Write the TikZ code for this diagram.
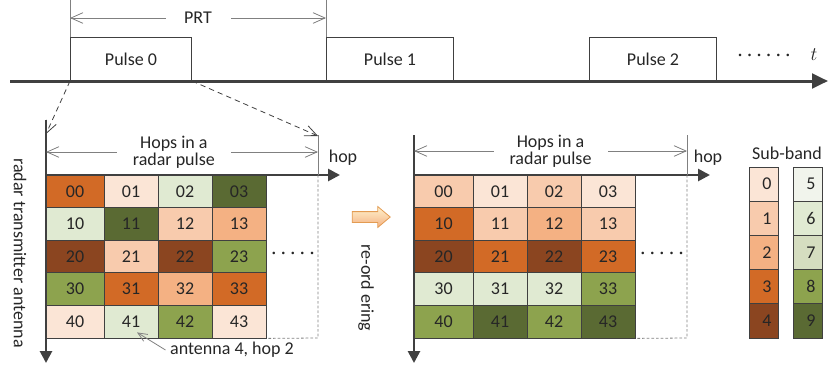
\documentclass[tikz,border=0pt]{standalone}
\usepackage{fontspec}
\setmainfont{Carlito}
\usetikzlibrary{arrows.meta,shapes.arrows}

\definecolor{sb0}{HTML}{FBE5D6}
\definecolor{sb1}{HTML}{F8CBAD}
\definecolor{sb2}{HTML}{F4B183}
\definecolor{sb3}{HTML}{D26A26}
\definecolor{sb4}{HTML}{8B4520}
\definecolor{sb5}{HTML}{F1F4EC}
\definecolor{sb6}{HTML}{E0EAD2}
\definecolor{sb7}{HTML}{D5DDC0}
\definecolor{sb8}{HTML}{8DA34E}
\definecolor{sb9}{HTML}{5A6A33}
\definecolor{axisgray}{HTML}{404040}
\definecolor{txt}{HTML}{262626}
\definecolor{arrtop}{HTML}{FFF2CC}
\definecolor{arrbot}{HTML}{F4B183}
\definecolor{arrline}{HTML}{E39B52}

\begin{document}
\begin{tikzpicture}[x=0.75pt,y=-0.75pt,
	font=\fontsize{13.5}{13}\selectfont, text=txt,
	axis/.style={draw=axisgray, line width=2pt, -{Triangle[length=9pt,width=9pt]}},
	guide/.style={draw=gray, line width=0.6pt},
	barb/.style={-{Straight Barb[length=9pt,width=8pt]}},
	dim/.style={guide, {Straight Barb[length=9pt,width=8pt]}-{Straight Barb[length=9pt,width=8pt]}},
	pulse/.style={draw=axisgray, line width=0.75pt, minimum height=31.9pt, inner sep=0pt, anchor=south west},
	cell/.style={draw=axisgray, line width=0.6pt, inner sep=0pt, minimum height=24.45pt},
	band/.style={draw=axisgray, line width=0.6pt, minimum width=21.75pt, minimum height=25.65pt, text width=12pt, align=right}]
	\useasboundingbox (0,0) rectangle (828,368);
	
	% time line
	\node[pulse, minimum width=90.75pt] (pulse0) at (70,81) {Pulse 0};
	\node[pulse, minimum width=95.25pt] (pulse1) at (326,81) {Pulse 1};
	\node[pulse, minimum width=95.25pt] (pulse2) at (589,81) {Pulse 2};
	\coordinate (t0) at (10,81);
	\coordinate (t1) at (828,81);
	\draw[axis, line width=2.25pt, -{Triangle[length=12pt,width=11pt]}] (t0) -- (t1);
	\node (tdots) at (764,57) {·\;·\;·\;·\;·\;·};
	\node (tlbl) at (814,55) {$t$};
	
	\draw[guide] (pulse0.north west) -- (70,0);
	\draw[guide] (pulse1.north west) -- (326,0);
	\coordinate (prtA) at (70,18);
	\coordinate (prtB) at (326,18);
	\draw[dim] (prtA) -- node[fill=white, inner xsep=14pt]{PRT} (prtB);
	
	% grid before re-ordering
	\foreach \r/\cols in {0/{sb3,sb0,sb6,sb9},1/{sb6,sb9,sb1,sb2},2/{sb4,sb1,sb4,sb8},3/{sb8,sb3,sb2,sb3},4/{sb0,sb6,sb8,sb0}}
		\foreach \col [count=\c from 0] in \cols {
			\pgfmathsetmacro{\xa}{\c==0 ? 46 : 50+54*\c}
			\pgfmathsetmacro{\xb}{104+54*\c}
			\node[cell, fill=\col, minimum width={(\xb-\xa)*0.75pt}] (L\r\c) at ({(\xa+\xb)/2},{191.3+32.6*\r}) {\r\c};
		}
	\draw[axis] (46,120) -- (46,363);
	\draw[axis] (46,175) -- (340,175);
	\draw[guide] (318,135) -- (318,175);
	\draw[guide, dash pattern=on 2pt off 1.5pt] (318,175) -- (318,338) -- (L43.south east);
	\node (Ldots) at (293,255) {·\;·\;·\;·\;·};
	\draw[dim] (46,152) -- node[pos=0.47, fill=white, align=center, inner xsep=12pt, inner ysep=0pt]{Hops in a\\radar pulse} (318,152);
	\node (Lhop) at (343,158) {hop};
	\node[rotate=-90] (Lant) at (20,253) {radar transmitter antenna};
	\node (antlbl) at (232,350) {antenna 4, hop 2};
	\draw[guide, -{Straight Barb[length=7pt,width=6pt]}] (antlbl.west) -- ([shift={(6,-6)}]L41.south);
	
	\coordinate (Lcorner) at (46,134);
	\coordinate (Rcorner) at (318,136);
	\draw[guide, draw=axisgray, dash pattern=on 4pt off 3pt, barb] (pulse0.south west) -- (Lcorner);
	\draw[guide, draw=axisgray, dash pattern=on 4pt off 3pt, barb] (pulse0.south east) -- (Rcorner);
	
	% re-ordering
	\node[single arrow, draw=arrline, line width=0.6pt, top color=arrtop, bottom color=arrbot, minimum height=28.5pt, inner xsep=0pt, inner ysep=3.75pt, single arrow head extend=3.75pt, single arrow tip angle=80] (reorder) at (368,217) {};
	\node[rotate=-90] (reordlbl) at (366,288) {re-ord ering};
	
	% grid after re-ordering
	\foreach \r/\cols in {0/{sb1,sb0,sb1,sb0},1/{sb3,sb1,sb2,sb1},2/{sb4,sb3,sb4,sb3},3/{sb6,sb6,sb6,sb8},4/{sb8,sb9,sb8,sb9}}
		\foreach \col [count=\c from 0] in \cols {
			\pgfmathsetmacro{\xa}{\c==0 ? 414 : 419+54*\c}
			\pgfmathsetmacro{\xb}{473+54*\c}
			\node[cell, fill=\col, minimum width={(\xb-\xa)*0.75pt}] (R\r\c) at ({(\xa+\xb)/2},{191.3+32.6*\r}) {\r\c};
		}
	\draw[axis] (414,135) -- (414,363);
	\draw[axis] (414,175) -- (710,175);
	\draw[guide] (687,135) -- (687,175);
	\draw[guide, dash pattern=on 2pt off 1.5pt] (687,175) -- (687,338) -- (R43.south east);
	\node (Rdots) at (662,255) {·\;·\;·\;·\;·};
	\draw[dim] (414,151) -- node[fill=white, align=center, inner xsep=12pt, inner ysep=0pt]{Hops in a\\radar pulse} (687,151);
	\node (Rhop) at (708,158) {hop};
	
	% sub-bands
	\node (sblbl) at (787,153) {Sub-band};
	\foreach \i in {0,...,4} {
		\pgfmathtruncatemacro{\j}{\i+5}
		\node[band, fill=sb\i] (band\i) at (763.5,{184.1+34.2*\i}) {\i};
		\node[band, fill=sb\j] (band\j) at (807.5,{184.1+34.2*\i}) {\j};
	}
\end{tikzpicture}
\end{document}
